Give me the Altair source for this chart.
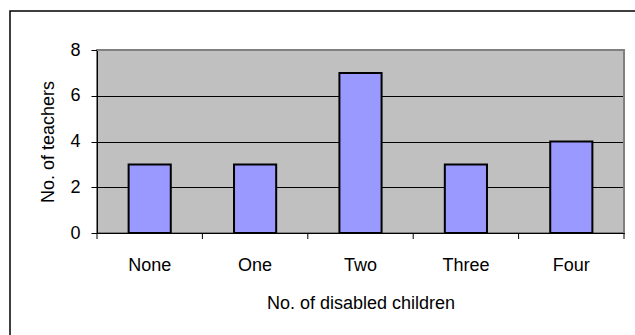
import altair as alt
import pandas as pd

# Survey counts: teachers grouped by how many disabled children they teach
categories = ["None", "One", "Two", "Three", "Four"]
teachers = [3, 3, 7, 3, 4]
y_ticks = [0, 2, 4, 6, 8]

W, H = 527, 183
FONT = "Liberation Sans"
FS = 18

bars_df = pd.DataFrame({"children": categories, "teachers": teachers})
edges_df = pd.DataFrame({"edge": list(range(len(categories) + 1))})
one_row = pd.DataFrame({"k": [0]})

bars = alt.Chart(bars_df).mark_bar(
    color="#9999FF", stroke="black", strokeWidth=2
).encode(
    x=alt.X(
        "children:N",
        sort=categories,
        scale=alt.Scale(paddingInner=0.6, paddingOuter=0.3),
        axis=alt.Axis(
            title="No. of disabled children",
            labelAngle=0,
            ticks=False,
            tickSize=0,
            labelPadding=23,
            domainColor="black",
            domainWidth=1,
            titleBaseline="alphabetic",
            titleY=75,
        ),
    ),
    y=alt.Y(
        "teachers:Q",
        scale=alt.Scale(domain=[0, 8], nice=False),
        axis=alt.Axis(
            title="No. of teachers",
            values=y_ticks,
            grid=True,
            gridColor="black",
            gridWidth=1,
            tickColor="black",
            tickSize=6,
            labelPadding=11,
            domainColor="black",
            domainWidth=1,
            titleAngle=-90,
            titleAlign="center",
            titleBaseline="alphabetic",
            titleX=-44,
            titleY=H / 2,
        ),
    ),
)

# category separators below the x axis
edge_ticks = alt.Chart(edges_df).mark_rule(color="black", strokeWidth=1).encode(
    x=alt.X("edge:Q", scale=alt.Scale(domain=[0, len(categories)], nice=False), axis=None),
    y=alt.value(H),
    y2=alt.value(H + 6),
)

# grey top and right edges of the plot area
top_edge = alt.Chart(one_row).mark_rule(color="#808080", strokeWidth=2).encode(
    x=alt.value(0), x2=alt.value(W), y=alt.value(0)
)
right_edge = alt.Chart(one_row).mark_rule(color="#808080", strokeWidth=2).encode(
    x=alt.value(W), y=alt.value(0), y2=alt.value(H)
)

# outer chart frame
frame = alt.Chart(one_row).mark_rect(
    fill="transparent", stroke="black", strokeWidth=1.5
).encode(
    x=alt.value(-87), x2=alt.value(W + 30), y=alt.value(-39), y2=alt.value(H + 120)
)

chart = (
    alt.layer(frame, bars, top_edge, right_edge, edge_ticks)
    .resolve_scale(x="independent")
    .properties(
        width=W,
        height=H,
        autosize=alt.AutoSizeParams(type="none"),
        padding={"left": 97, "top": 50, "right": 11, "bottom": 102},
        background="white",
    )
    .configure_view(fill="#C0C0C0", stroke="#808080", strokeWidth=2)
    .configure_axis(
        labelFont=FONT,
        titleFont=FONT,
        labelFontSize=FS,
        titleFontSize=FS,
        labelColor="black",
        titleColor="black",
        titleFontWeight="normal",
    )
)

chart.save("out.html", embed_options={"renderer": "svg", "actions": False})
